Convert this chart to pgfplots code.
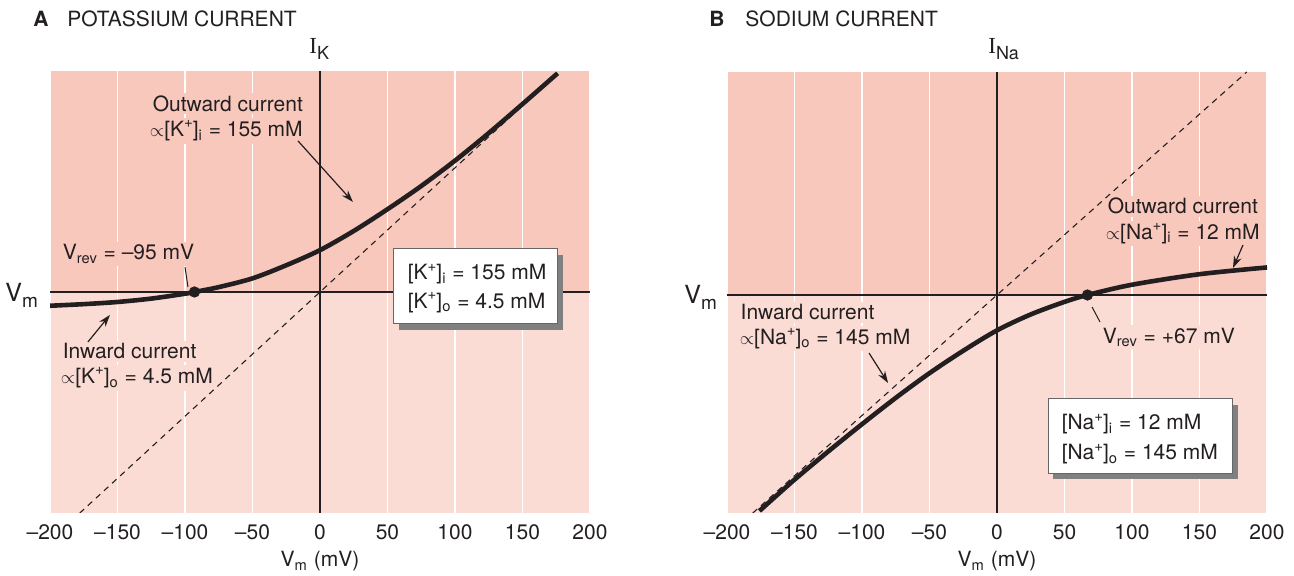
\documentclass[border=0pt]{standalone}
\usepackage{pgfplots}
\pgfplotsset{compat=1.18}
\usepackage{fontspec}
\setmainfont{TeX Gyre Heros}
\newfontfamily\serifI{Liberation Serif}
\usetikzlibrary{arrows.meta}

\definecolor{pinkhi}{RGB}{249,200,189}
\definecolor{pinklo}{RGB}{251,220,212}
\definecolor{shadowgray}{RGB}{128,128,128}
\definecolor{ink}{RGB}{35,31,32}

\newcommand{\ionsup}[1]{\raisebox{0.8ex}{\fontsize{7.5}{7.5}\selectfont #1}}

\tikzset{
  lbl/.style={anchor=base west, inner sep=1.2pt, text=ink},
  ptr/.style={ink, line width=0.6pt, -{Stealth[length=6pt,width=4pt]}},
}

\pgfplotsset{
  ionaxis/.style={
    set layers,
    scale only axis,
    width=270pt,
    xmin=-200, xmax=200,
    xtick={-200,-150,...,200},
    xticklabels={\textendash200,\textendash150,\textendash100,\textendash50,0,50,100,150,200},
    ytick=\empty,
    axis line style={draw=none},
    major tick length=0pt,
    xmajorgrids=true,
    grid style={white, line width=0.9pt},
    /pgf/number format/assume math mode=true,
    xticklabel style={anchor=base, yshift=-13.5pt, text=ink},
    xlabel={V\textsubscript{m} (mV)},
    xlabel style={at={(axis description cs:0.5,0)}, anchor=base, yshift=-27pt, text=ink},
  }
}

\begin{document}
\fontsize{10.5}{12}\selectfont
\begin{tikzpicture}

% ---------------- A: potassium ----------------
\begin{axis}[ionaxis, at={(25pt,31.5pt)}, anchor=south west,
  height=221pt, ymin=-163.7, ymax=163.7]
\begin{pgfonlayer}{axis background}
\fill[pinkhi] (axis cs:-200,0) rectangle (axis cs:200,163.7);
\fill[pinklo] (axis cs:-200,-163.7) rectangle (axis cs:200,0);
\end{pgfonlayer}
\draw[ink, line width=0.6pt] (axis cs:0,-163.7) -- (axis cs:0,163.7);
\draw[ink, line width=0.6pt] (axis cs:-200,0) -- (axis cs:200,0);

\node[lbl, fill=pinkhi] at (axis cs:-125.9,134) {Outward current};
\node[lbl, fill=pinkhi] at (axis cs:-128.1,115) {{\small$\propto$}[K\ionsup{+}]\textsubscript{i} = 155 mM};
\node[lbl, fill=pinkhi] at (axis cs:-192.6,23.7) {V\textsubscript{rev} = \textendash95 mV};
\node[lbl, fill=pinklo] at (axis cs:-192.6,-49.5) {Inward current};
\node[lbl, fill=pinklo] at (axis cs:-194,-68) {{\small$\propto$}[K\ionsup{+}]\textsubscript{o} = 4.5 mM};

\addplot[ink, dash pattern=on 3pt off 2.5pt, line width=0.55pt]
  coordinates {(-178,-163.8) (176,161.9)};
\addplot[ink, line width=2.3pt, smooth] coordinates {
  (-200,-10.2) (-175,-9.0) (-150,-7.4) (-125,-4.9) (-100,-1.3) (-93,0)
  (-75,3.6) (-50,10.1) (-25,19.8) (0,31) (25,45.2) (50,61.3) (75,78.5)
  (100,97.3) (125,117.7) (150,139.2) (176,162)};
\addplot[ink, only marks, mark=*, mark size=2.6pt] coordinates {(-93,0)};

\draw[ptr] (axis cs:-16.3,111.9) -- (axis cs:24.4,66.7);
\draw[ptr] (axis cs:-171.9,-37) -- (axis cs:-155.6,-17);
\draw[ink, line width=0.5pt] (axis cs:-100,18.5) -- (axis cs:-97.8,3.7);

\fill[shadowgray] (axis cs:58.5,27.5) rectangle (axis cs:180,-28.1);
\draw[fill=white, draw=gray!80!black, line width=0.5pt] (axis cs:54.1,31.9) rectangle (axis cs:175.6,-23.7);
\node[lbl] at (axis cs:63,8.9) {[K\ionsup{+}]\textsubscript{i} = 155 mM};
\node[lbl] at (axis cs:63,-11.9) {[K\ionsup{+}]\textsubscript{o} = 4.5 mM};
\end{axis}

% ---------------- B: sodium ----------------
\begin{axis}[ionaxis, at={(363.5pt,31.5pt)}, anchor=south west,
  height=220.5pt, ymin=-161.5, ymax=165.2]
\begin{pgfonlayer}{axis background}
\fill[pinkhi] (axis cs:-200,0) rectangle (axis cs:200,165.2);
\fill[pinklo] (axis cs:-200,-161.5) rectangle (axis cs:200,0);
\end{pgfonlayer}
\draw[ink, line width=0.6pt] (axis cs:0,-161.5) -- (axis cs:0,165.2);
\draw[ink, line width=0.6pt] (axis cs:-200,0) -- (axis cs:200,0);

\node[lbl, fill=pinkhi] at (axis cs:80,60) {Outward current};
\node[lbl, fill=pinkhi] at (axis cs:78.5,41) {{\small$\propto$}[Na\ionsup{+}]\textsubscript{i} = 12 mM};
\node[lbl, fill=pinklo] at (axis cs:76.3,-35.6) {V\textsubscript{rev} = +67 mV};
\node[lbl, fill=pinklo] at (axis cs:-191.9,-18.5) {Inward current};
\node[lbl, fill=pinklo] at (axis cs:-192.6,-36.5) {{\small$\propto$}[Na\ionsup{+}]\textsubscript{o} = 145 mM};

\addplot[ink, dash pattern=on 3pt off 2.5pt, line width=0.55pt]
  coordinates {(-181,-161.6) (185,165.2)};
\addplot[ink, line width=2.3pt, smooth] coordinates {
  (-176,-160) (-150,-136.8) (-125,-115.9) (-100,-95.7) (-75,-76.2) (-50,-57.9)
  (-25,-41.3) (0,-26.2) (25,-14.4) (50,-5.1) (67,0) (100,7.6) (150,15.4) (200,20.4)};
\addplot[ink, only marks, mark=*, mark size=2.6pt] coordinates {(67,0)};

\draw[ptr] (axis cs:182.2,37) -- (axis cs:174.8,20);
\draw[ptr] (axis cs:-94.8,-43) -- (axis cs:-80.7,-65.2);
\draw[ink, line width=0.5pt] (axis cs:70.4,-8.9) -- (axis cs:76.3,-20);

\fill[shadowgray] (axis cs:41.8,-81.4) rectangle (axis cs:178.5,-136.3);
\draw[fill=white, draw=gray!80!black, line width=0.5pt] (axis cs:37.8,-77) rectangle (axis cs:174.8,-131.9);
\node[lbl] at (axis cs:45.9,-100) {[Na\ionsup{+}]\textsubscript{i} = 12 mM};
\node[lbl] at (axis cs:45.9,-122.2) {[Na\ionsup{+}]\textsubscript{o} = 145 mM};
\end{axis}

% ---------------- titles and axis names ----------------
\node[anchor=base west, inner sep=0pt, text=ink] at (16.5pt,274.5pt) {\bfseries A};
\node[anchor=base west, inner sep=0pt, text=ink] at (33.5pt,274.5pt) {POTASSIUM CURRENT};
\node[anchor=base west, inner sep=0pt, text=ink] at (354.5pt,274.5pt) {\bfseries B};
\node[anchor=base west, inner sep=0pt, text=ink] at (372.5pt,274.5pt) {SODIUM CURRENT};

\node[anchor=base west, inner sep=0pt, text=ink] at (154.5pt,261pt)
  {{\serifI\fontsize{11.5}{11.5}\selectfont I}\raisebox{-3pt}{\fontsize{9}{9}\selectfont K}};
\node[anchor=base west, inner sep=0pt, text=ink] at (494pt,261pt)
  {{\serifI\fontsize{11.5}{11.5}\selectfont I}\raisebox{-3pt}{\fontsize{9}{9}\selectfont Na}};

\node[anchor=base west, inner sep=0pt, text=ink] at (2.5pt,137pt)
  {\fontsize{12.5}{12.5}\selectfont V\raisebox{-3pt}{\fontsize{9.5}{9.5}\selectfont m}};
\node[anchor=base west, inner sep=0pt, text=ink] at (342pt,136pt)
  {\fontsize{12.5}{12.5}\selectfont V\raisebox{-3pt}{\fontsize{9.5}{9.5}\selectfont m}};

\pgfresetboundingbox
\path (0,0) rectangle (647pt,288pt);
\end{tikzpicture}
\end{document}
